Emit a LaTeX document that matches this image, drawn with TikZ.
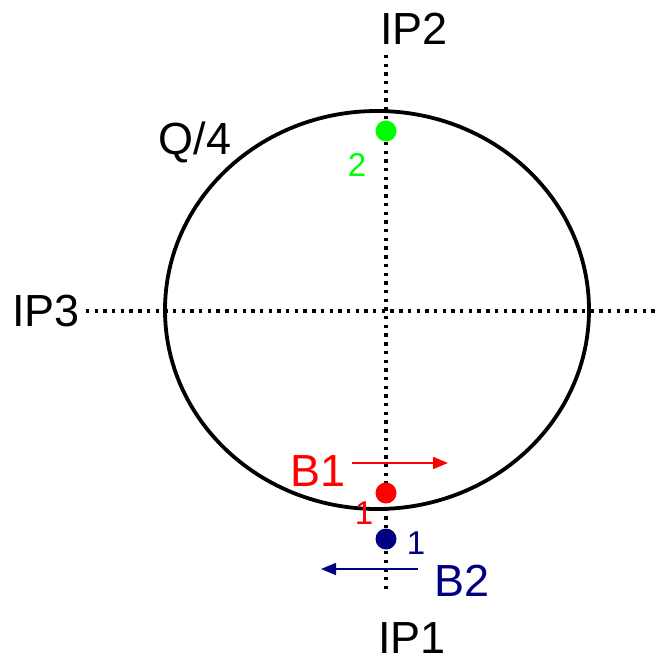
\documentclass[tikz,border=0pt]{standalone}
\usepackage{fontspec}
\setmainfont{Liberation Sans}
\usetikzlibrary{arrows.meta,positioning}

\definecolor{bunchred}{RGB}{255,0,0}
\definecolor{bunchgreen}{RGB}{0,255,0}
\definecolor{bunchblue}{RGB}{0,0,128}

\begin{document}
\begin{tikzpicture}[
    x=1pt, y=-1pt,
    axis/.style={black, line width=3.4pt, dash pattern=on 3.4pt off 5.3pt},
    ring/.style={black, line width=3.8pt},
    bigtxt/.style={font=\fontsize{45}{50}\selectfont, inner sep=0pt},
    smalltxt/.style={font=\fontsize{33}{38}\selectfont, inner sep=0pt},
    dot/.style={circle, minimum size=21pt, inner sep=0pt},
    beam/.style={line width=1.7pt, -{Triangle[length=15pt,width=12pt]}}
]
\useasboundingbox (0,0) rectangle (660,663);

% ---------- labels of the interaction points ----------
\node[bigtxt] (ip2) at (414,29)  {IP2};
\node[bigtxt] (ip3) at (46,311)  {IP3};
\node[bigtxt] (ip1) at (412,638) {IP1};
\node[bigtxt] (q4)  at (195,142) {Q/4};

% ---------- axes ----------
\coordinate (vtop) at (386,55);
\coordinate (vbot) at (386,590);
\coordinate (hend) at (660,311);
\draw[axis] (vtop) -- (vbot);
\draw[axis] ([xshift=6pt]ip3.east) -- (hend);

% ---------- ring ----------
\draw[ring] (377,310) ellipse (212 and 199);

% ---------- bunches ----------
\node[dot, fill=bunchgreen] (g2) at (386,131) {};
\node[dot, fill=bunchred]   (r1) at (386,493) {};
\node[dot, fill=bunchblue]  (n1) at (386,539) {};

\node[smalltxt, bunchgreen] (g2lbl) at (357,165) {2};
\node[smalltxt, bunchred]   (r1lbl) at (364,513) {1};
\node[smalltxt, bunchblue]  (n1lbl) at (416,543) {1};

% ---------- beams ----------
\node[bigtxt, bunchred]  (b1) at (318,471) {B1};
\node[bigtxt, bunchblue] (b2) at (462,581) {B2};
\coordinate (b1s) at (352,463);
\coordinate (b1e) at (448,463);
\coordinate (b2s) at (418,569);
\coordinate (b2e) at (321,569);
\draw[beam, bunchred]  (b1s) -- (b1e);
\draw[beam, bunchblue] (b2s) -- (b2e);

\end{tikzpicture}
\end{document}
